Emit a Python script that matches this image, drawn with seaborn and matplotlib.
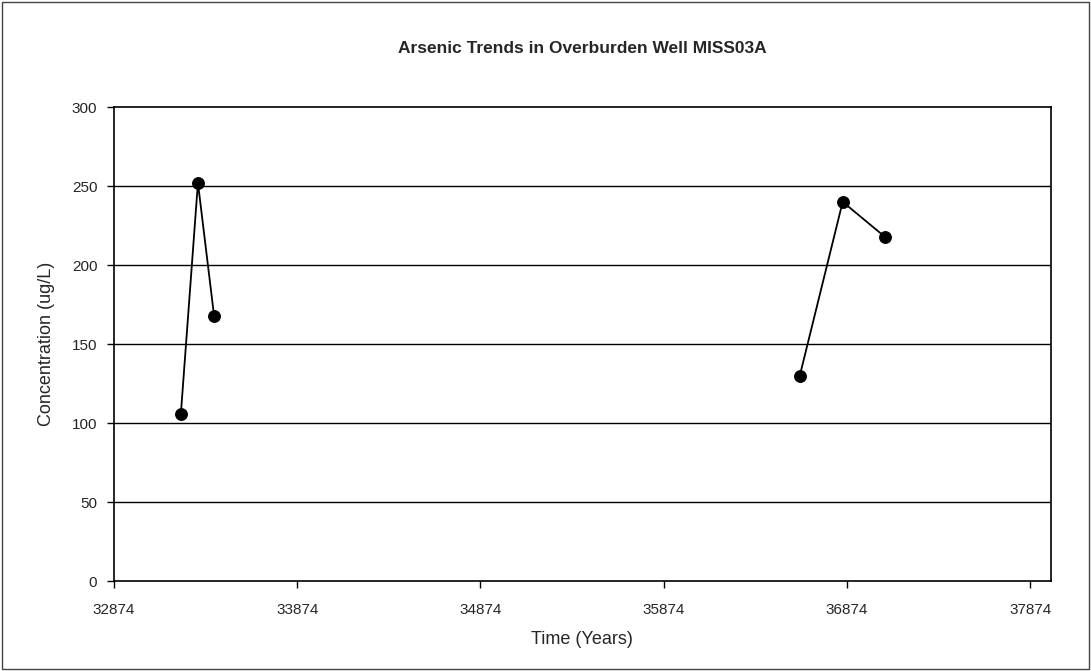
import matplotlib
matplotlib.use("Agg")
import matplotlib.pyplot as plt
import pandas as pd
import seaborn as sns

# sample dates (excel serial days) and arsenic results
days = [33239, 33332, 33420, 36617, 36851, 37080]
arsenic = [106, 252, 168, 130, 240, 218]
segment = [1, 1, 1, 2, 2, 2]
xticks = [32874, 33874, 34874, 35874, 36874, 37874]
yticks = [0, 50, 100, 150, 200, 250, 300]

data = pd.DataFrame({"days": days, "arsenic": arsenic, "segment": segment})

sns.set_style("white")
plt.rcParams['font.family'] = ['Liberation Sans', 'DejaVu Sans']

fig = plt.figure(figsize=(10.91, 6.71), dpi=100)
ax = fig.add_axes([0.1045, 0.134, 0.8585, 0.7065])

for y in yticks[1:-1]:
    ax.axhline(y, color="black", lw=1, zorder=0)

sns.lineplot(data=data, x="days", y="arsenic", units="segment", estimator=None,
             color="black", lw=1.3, marker="o", markersize=8.5, markeredgecolor="black",
             ax=ax)

ax.set_xlim(32874, 37986)
ax.set_ylim(0, 300)
ax.set_xticks(xticks)
ax.set_xticklabels([str(t) for t in xticks], fontsize=11)
ax.set_yticks(yticks)
ax.set_yticklabels([str(t) for t in yticks], fontsize=11)
ax.tick_params(axis="both", direction="out", length=5, width=1, color="black",
               bottom=True, left=True)
ax.tick_params(axis="x", pad=11)
ax.tick_params(axis="y", pad=7)
for s in ax.spines.values():
    s.set_color("black")
    s.set_linewidth(1.2)

ax.set_xlabel("Time (Years)", fontsize=13, labelpad=10)
ax.set_ylabel("Concentration (ug/L)", fontsize=13, labelpad=12)
ax.set_title("Arsenic Trends in Overburden Well MISS03A", fontsize=12.5, fontweight="bold", pad=39)

# outer chart border
fig.patches.append(plt.Rectangle((0.002, 0.003), 0.996, 0.994, transform=fig.transFigure,
                                 fill=False, edgecolor="#444444", lw=1))

fig.savefig("out.png", dpi=100)
